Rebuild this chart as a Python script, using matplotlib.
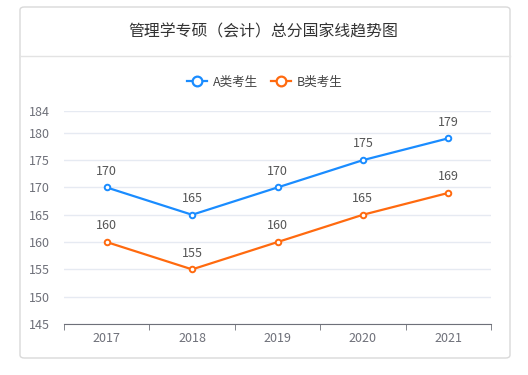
import matplotlib.pyplot as plt
from matplotlib.patches import FancyBboxPatch
from matplotlib.lines import Line2D

plt.rcParams['font.family'] = ['Noto Sans CJK SC', 'DejaVu Sans']

# 数据
years = ['2017', '2018', '2019', '2020', '2021']
a_scores = [170, 165, 170, 175, 179]
b_scores = [160, 155, 160, 165, 169]
y_ticks = [145, 150, 155, 160, 165, 170, 175, 180, 184]

blue = '#1a8cff'
orange = '#ff6a0f'

W, H = 528, 375
fig = plt.figure(figsize=(W / 100, H / 100), dpi=100)

# 卡片背景
card = FancyBboxPatch((20 / W, 1 - 358 / H), 490 / W, 351 / H,
                      boxstyle='round,pad=0,rounding_size=0.008',
                      transform=fig.transFigure, facecolor='white',
                      edgecolor='#d9d9d9', linewidth=1, zorder=-5)
fig.patches.append(card)
fig.add_artist(Line2D([20 / W, 510 / W], [1 - 56 / H, 1 - 56 / H],
                      transform=fig.transFigure, color='#e3e3e3',
                      linewidth=1, zorder=-4))

fig.text(263 / W, 1 - 32 / H, '管理学专硕（会计）总分国家线趋势图',
         ha='center', va='center', fontsize=11.4, color='#333333')

ax = fig.add_axes([64 / W, 1 - 324 / H, 427 / W, 213 / H])
ax.patch.set_alpha(0)
x = list(range(len(years)))

ax.plot(x, a_scores, color=blue, linewidth=1.6, marker='o', markersize=4,
        markerfacecolor='white', markeredgewidth=1.4, zorder=3)
ax.plot(x, b_scores, color=orange, linewidth=1.6, marker='o', markersize=4,
        markerfacecolor='white', markeredgewidth=1.4, zorder=3)

for xi, v in zip(x, a_scores):
    ax.annotate(str(v), (xi, v), xytext=(0, 7), textcoords='offset points',
                ha='center', va='bottom', fontsize=9, color='#555555')
for xi, v in zip(x, b_scores):
    ax.annotate(str(v), (xi, v), xytext=(0, 7), textcoords='offset points',
                ha='center', va='bottom', fontsize=9, color='#555555')

ax.set_xlim(-0.5, len(years) - 0.5)
ax.set_ylim(145, 184)
ax.set_yticks(y_ticks)
ax.set_xticks(x)
ax.set_xticklabels(years)
ax.set_xticks([i - 0.5 for i in range(len(years) + 1)], minor=True)

ax.grid(axis='y', color='#e6eaf2', linewidth=1)
ax.set_axisbelow(True)
for s in ['top', 'right', 'left']:
    ax.spines[s].set_visible(False)
ax.spines['bottom'].set_color('#6e7079')
ax.tick_params(axis='y', length=0, labelsize=9, labelcolor='#6e7079', pad=10)
ax.tick_params(axis='x', which='major', length=0, labelsize=9,
               labelcolor='#6e7079', pad=6)
ax.tick_params(axis='x', which='minor', length=4, color='#6e7079')

handles = [Line2D([], [], color=c, linewidth=1.6, marker='o', markersize=7,
                  markerfacecolor='white', markeredgewidth=1.6)
           for c in (blue, orange)]
leg = fig.legend(handles, ['A类考生', 'B类考生'], loc='center',
                 bbox_to_anchor=(265 / W, 1 - 82 / H), ncol=2,
                 frameon=False, fontsize=9, handlelength=1.6,
                 columnspacing=1.0, handletextpad=0.5)
for t in leg.get_texts():
    t.set_color('#444444')

fig.savefig('out.png', dpi=100)
